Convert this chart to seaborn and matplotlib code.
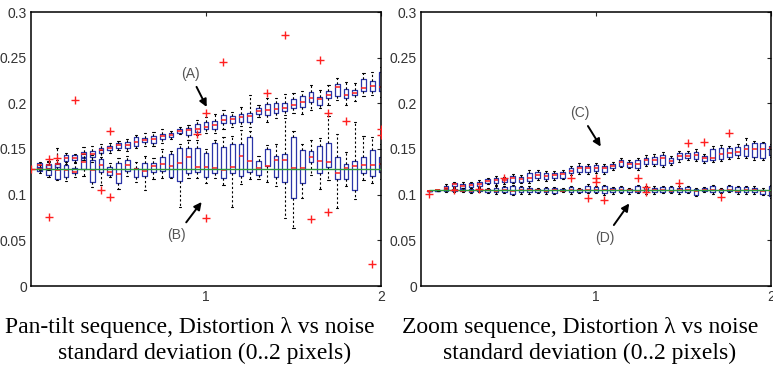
import numpy as np
import pandas as pd
import matplotlib
matplotlib.use('Agg')
from matplotlib import pyplot as plt
import seaborn as sns

# ---------------------------------------------------------------------------
# Distortion lambda estimated vs. noise std (0..2 px), two sequences.
# Each box is given by its 5 numbers: lower whisker, q1, median, q3, upper whisker
# ---------------------------------------------------------------------------

# Pan-tilt sequence: 40 noise levels, true value 0.1277
noise_pt = np.linspace(0.05, 2.0, 40)
true_pt = 0.1277

# (A) fixed-lambda estimate, drifts upwards
A_lo = [0.1270, 0.1270, 0.1280, 0.1340, 0.1350, 0.1380, 0.1360, 0.1410, 0.1460, 0.1490,
        0.1480, 0.1510, 0.1530, 0.1530, 0.1570, 0.1610, 0.1660, 0.1600, 0.1650, 0.1680,
        0.1680, 0.1720, 0.1740, 0.1750, 0.1740, 0.1850, 0.1800, 0.1840, 0.1870, 0.1890,
        0.1880, 0.1930, 0.1950, 0.1980, 0.2040, 0.1980, 0.2030, 0.2080, 0.2090, 0.2070]
A_q1 = [0.1295, 0.1288, 0.1306, 0.1372, 0.1379, 0.1416, 0.1409, 0.1453, 0.1489, 0.1515,
        0.1515, 0.1537, 0.1573, 0.1570, 0.1606, 0.1636, 0.1679, 0.1654, 0.1690, 0.1720,
        0.1720, 0.1782, 0.1782, 0.1800, 0.1793, 0.1886, 0.1871, 0.1892, 0.1911, 0.1948,
        0.1965, 0.2020, 0.1983, 0.2056, 0.2075, 0.2056, 0.2086, 0.2140, 0.2140, 0.2130]
A_med = [0.1320, 0.1320, 0.1340, 0.1400, 0.1400, 0.1440, 0.1450, 0.1490, 0.1510, 0.1540,
         0.1540, 0.1580, 0.1600, 0.1610, 0.1640, 0.1650, 0.1700, 0.1710, 0.1720, 0.1745,
         0.1760, 0.1820, 0.1830, 0.1848, 0.1859, 0.1911, 0.1922, 0.1937, 0.1948, 0.1977,
         0.2010, 0.2060, 0.2050, 0.2090, 0.2180, 0.2090, 0.2110, 0.2170, 0.2190, 0.2180]
A_q3 = [0.1343, 0.1339, 0.1350, 0.1434, 0.1434, 0.1471, 0.1482, 0.1515, 0.1537, 0.1562,
        0.1581, 0.1636, 0.1625, 0.1643, 0.1661, 0.1672, 0.1716, 0.1734, 0.1771, 0.1793,
        0.1811, 0.1874, 0.1863, 0.1880, 0.1899, 0.1948, 0.1994, 0.2001, 0.2001, 0.2045,
        0.2075, 0.2119, 0.2064, 0.2140, 0.2214, 0.2155, 0.2148, 0.2269, 0.2247, 0.2338]
A_hi = [0.1360, 0.1370, 0.1380, 0.1460, 0.1450, 0.1520, 0.1530, 0.1560, 0.1570, 0.1590,
        0.1610, 0.1650, 0.1680, 0.1690, 0.1720, 0.1700, 0.1740, 0.1760, 0.1820, 0.1850,
        0.1880, 0.1930, 0.1910, 0.1960, 0.2090, 0.1980, 0.2060, 0.2060, 0.2100, 0.2110,
        0.2130, 0.2200, 0.2150, 0.2200, 0.2280, 0.2230, 0.2220, 0.2330, 0.2340, 0.2400]

# (B) free-lambda estimate, stays around the true value
B_lo = [0.1240, 0.1190, 0.1160, 0.1150, 0.1190, 0.1200, 0.1080, 0.1110, 0.1190, 0.1060,
        0.1200, 0.1140, 0.1050, 0.1170, 0.1180, 0.1180, 0.0870, 0.1180, 0.1180, 0.1130,
        0.1180, 0.1110, 0.0860, 0.1120, 0.1170, 0.1170, 0.1140, 0.1090, 0.0740, 0.0630,
        0.0960, 0.1220, 0.1060, 0.1160, 0.0850, 0.1100, 0.0950, 0.1160, 0.1130, 0.1170]
B_q1 = [0.1260, 0.1215, 0.1170, 0.1196, 0.1233, 0.1277, 0.1140, 0.1250, 0.1215, 0.1123,
        0.1260, 0.1189, 0.1204, 0.1250, 0.1260, 0.1196, 0.1149, 0.1240, 0.1250, 0.1196,
        0.1234, 0.1178, 0.1234, 0.1209, 0.1245, 0.1212, 0.1315, 0.1197, 0.1135, 0.0967,
        0.1130, 0.1361, 0.1234, 0.1306, 0.1168, 0.1171, 0.1050, 0.1234, 0.1204, 0.1248]
B_med = [0.1277, 0.1280, 0.1270, 0.1270, 0.1251, 0.1361, 0.1270, 0.1330, 0.1251, 0.1226,
         0.1330, 0.1277, 0.1259, 0.1310, 0.1340, 0.1314, 0.1350, 0.1410, 0.1306, 0.1306,
         0.1289, 0.1269, 0.1299, 0.1428, 0.1369, 0.1289, 0.1318, 0.1379, 0.1379, 0.1289,
         0.1290, 0.1416, 0.1369, 0.1361, 0.1240, 0.1289, 0.1314, 0.1325, 0.1325, 0.1336]
B_q3 = [0.1300, 0.1330, 0.1340, 0.1325, 0.1295, 0.1398, 0.1380, 0.1387, 0.1306, 0.1350,
        0.1380, 0.1288, 0.1343, 0.1350, 0.1416, 0.1445, 0.1507, 0.1508, 0.1507, 0.1452,
        0.1563, 0.1520, 0.1551, 0.1551, 0.1628, 0.1373, 0.1497, 0.1428, 0.1443, 0.1628,
        0.1490, 0.1479, 0.1533, 0.1563, 0.1410, 0.1336, 0.1369, 0.1410, 0.1490, 0.1410]
B_hi = [0.1330, 0.1360, 0.1510, 0.1360, 0.1360, 0.1450, 0.1430, 0.1490, 0.1350, 0.1400,
        0.1420, 0.1360, 0.1420, 0.1400, 0.1500, 0.1480, 0.1550, 0.1600, 0.1600, 0.1500,
        0.1600, 0.1630, 0.1640, 0.1710, 0.1700, 0.1420, 0.1540, 0.1550, 0.1840, 0.1700,
        0.1550, 0.1600, 0.1620, 0.1860, 0.1660, 0.1470, 0.1800, 0.1640, 0.1630, 0.1550]

out_pt_x = [0.0, 0.10, 0.10, 0.15, 0.25, 0.40, 0.45, 0.45, 0.95, 1.00, 1.00,
            1.10, 1.35, 1.45, 1.60, 1.65, 1.70, 1.70, 1.80, 1.95, 2.00, 2.00]
out_pt_y = [0.1277, 0.139, 0.076, 0.140, 0.204, 0.105, 0.097, 0.170, 0.1665, 0.189, 0.075,
            0.245, 0.211, 0.275, 0.073, 0.247, 0.189, 0.081, 0.181, 0.0245, 0.172, 0.165]

# Zoom sequence: 42 noise levels, true value 0.1046
noise_zm = np.linspace(2 / 42, 2.0, 42)
true_zm = 0.1046

# (C) fixed-lambda estimate
C_lo = [0.1045, 0.1044, 0.1035, 0.1085, 0.1065, 0.1070, 0.1085, 0.1115, 0.1110, 0.1120,
        0.1125, 0.1125, 0.1130, 0.1165, 0.1150, 0.1165, 0.1170, 0.1210, 0.1225, 0.1230,
        0.1240, 0.1225, 0.1270, 0.1300, 0.1290, 0.1265, 0.1310, 0.1315, 0.1300, 0.1325,
        0.1360, 0.1380, 0.1365, 0.1350, 0.1360, 0.1365, 0.1395, 0.1405, 0.1400, 0.1380,
        0.1375, 0.1410]
C_q1 = [0.1045, 0.1045, 0.1050, 0.1098, 0.1076, 0.1083, 0.1098, 0.1131, 0.1127, 0.1135,
        0.1142, 0.1142, 0.1149, 0.1186, 0.1171, 0.1186, 0.1186, 0.1233, 0.1244, 0.1252,
        0.1259, 0.1244, 0.1288, 0.1318, 0.1307, 0.1288, 0.1332, 0.1332, 0.1325, 0.1343,
        0.1387, 0.1398, 0.1387, 0.1369, 0.1380, 0.1387, 0.1416, 0.1435, 0.1427, 0.1416,
        0.1405, 0.1435]
C_med = [0.1045, 0.1046, 0.1069, 0.1113, 0.1098, 0.1105, 0.1120, 0.1149, 0.1156, 0.1156,
         0.1179, 0.1172, 0.1179, 0.1215, 0.1208, 0.1212, 0.1223, 0.1263, 0.1296, 0.1289,
         0.1296, 0.1289, 0.1314, 0.1354, 0.1336, 0.1340, 0.1380, 0.1380, 0.1398, 0.1373,
         0.1424, 0.1427, 0.1430, 0.1398, 0.1405, 0.1442, 0.1460, 0.1470, 0.1497, 0.1497,
         0.1500, 0.1508]
C_q3 = [0.1045, 0.1047, 0.1094, 0.1127, 0.1120, 0.1124, 0.1142, 0.1167, 0.1186, 0.1178,
        0.1208, 0.1193, 0.1233, 0.1244, 0.1233, 0.1233, 0.1244, 0.1288, 0.1318, 0.1318,
        0.1325, 0.1310, 0.1340, 0.1380, 0.1361, 0.1380, 0.1405, 0.1416, 0.1435, 0.1398,
        0.1453, 0.1453, 0.1471, 0.1420, 0.1501, 0.1515, 0.1508, 0.1526, 0.1544, 0.1563,
        0.1563, 0.1537]
C_hi = [0.1045, 0.1048, 0.1115, 0.1140, 0.1135, 0.1140, 0.1160, 0.1185, 0.1205, 0.1195,
        0.1230, 0.1220, 0.1265, 0.1270, 0.1260, 0.1255, 0.1270, 0.1315, 0.1345, 0.1340,
        0.1350, 0.1335, 0.1360, 0.1400, 0.1380, 0.1400, 0.1430, 0.1440, 0.1465, 0.1420,
        0.1480, 0.1475, 0.1495, 0.1445, 0.1530, 0.1545, 0.1530, 0.1560, 0.1620, 0.1590,
        0.1580, 0.1555]

# (D) free-lambda estimate
D_lo = [0.1045, 0.1044, 0.1025, 0.1028, 0.1025, 0.1015, 0.1030, 0.1020, 0.1010, 0.1015,
        0.0995, 0.1012, 0.1012, 0.1020, 0.1012, 0.1005, 0.1028, 0.1010, 0.1020, 0.1015,
        0.1015, 0.1000, 0.1010, 0.1018, 0.1012, 0.1018, 0.1010, 0.1010, 0.1018, 0.1015,
        0.1010, 0.1015, 0.0985, 0.1028, 0.1010, 0.1018, 0.1025, 0.1012, 0.1010, 0.1010,
        0.0995, 0.0965]
D_q1 = [0.1045, 0.1045, 0.1036, 0.1039, 0.1036, 0.1025, 0.1039, 0.1032, 0.1025, 0.1032,
        0.1003, 0.1025, 0.1025, 0.1032, 0.1025, 0.1017, 0.1039, 0.1025, 0.1032, 0.1032,
        0.1032, 0.1017, 0.1025, 0.1032, 0.1025, 0.1032, 0.1025, 0.1025, 0.1032, 0.1032,
        0.1025, 0.1032, 0.0996, 0.1039, 0.1025, 0.1032, 0.1039, 0.1025, 0.1025, 0.1025,
        0.1010, 0.0981]
D_med = [0.1045, 0.1046, 0.1046, 0.1046, 0.1045, 0.1045, 0.1046, 0.1046, 0.1045, 0.1050,
         0.1045, 0.1046, 0.1048, 0.1046, 0.1045, 0.1046, 0.1045, 0.1046, 0.1046, 0.1046,
         0.1046, 0.1046, 0.1046, 0.1048, 0.1046, 0.1045, 0.1046, 0.1046, 0.1046, 0.1045,
         0.1046, 0.1048, 0.1040, 0.1046, 0.1048, 0.1046, 0.1046, 0.1045, 0.1046, 0.1046,
         0.1040, 0.1043]
D_q3 = [0.1045, 0.1047, 0.1058, 0.1061, 0.1061, 0.1061, 0.1061, 0.1061, 0.1076, 0.1080,
        0.1090, 0.1087, 0.1076, 0.1061, 0.1069, 0.1069, 0.1061, 0.1083, 0.1061, 0.1098,
        0.1083, 0.1091, 0.1069, 0.1083, 0.1061, 0.1091, 0.1083, 0.1076, 0.1083, 0.1083,
        0.1076, 0.1083, 0.1061, 0.1069, 0.1091, 0.1061, 0.1091, 0.1083, 0.1083, 0.1076,
        0.1054, 0.1091]
D_hi = [0.1045, 0.1048, 0.1070, 0.1075, 0.1075, 0.1078, 0.1075, 0.1078, 0.1090, 0.1098,
        0.1105, 0.1100, 0.1090, 0.1075, 0.1085, 0.1085, 0.1075, 0.1098, 0.1078, 0.1115,
        0.1100, 0.1108, 0.1085, 0.1100, 0.1078, 0.1110, 0.1100, 0.1095, 0.1100, 0.1100,
        0.1095, 0.1100, 0.1078, 0.1085, 0.1108, 0.1078, 0.1108, 0.1100, 0.1100, 0.1092,
        0.1070, 0.1108]

out_zm_i = [1, 4, 7, 10, 18, 20, 21, 21, 22, 26, 27, 27, 31, 32, 34, 36, 37]
out_zm_y = [0.1003, 0.1050, 0.1060, 0.1185, 0.1186, 0.0959, 0.1178, 0.1142, 0.0940,
            0.1178, 0.1087, 0.1032, 0.1130, 0.1570, 0.1580, 0.0977, 0.1680]

yticks = [0, 0.05, 0.1, 0.15, 0.2, 0.25, 0.3]
ytick_labels = ['0', '0.05', '0.1', '0.15', '0.2', '0.25', '0.3']
captions = ['Pan-tilt sequence, Distortion \u03bb vs noise',
            'Zoom sequence, Distortion \u03bb vs noise']
caption2 = 'standard deviation (0..2 pixels)'

BLUE = '#2b35a8'
RED = '#ff2020'
GREEN = '#2e9a3a'

sns.set_style('white')
plt.rcParams['font.family'] = ['Liberation Sans Narrow', 'Liberation Sans']


def long_form(x, lo, q1, med, q3, hi):
    rows = []
    for xi, *vals in zip(x, lo, q1, med, q3, hi):
        rows += [(xi, v) for v in vals]
    return pd.DataFrame(rows, columns=['noise', 'lam'])


def draw_boxes(ax, df):
    sns.boxplot(data=df, x='noise', y='lam', native_scale=True, fill=False,
                color=BLUE, linecolor=BLUE, width=0.55, whis=(0, 100), linewidth=0.9,
                showfliers=False,
                medianprops=dict(color=RED, linewidth=1.1),
                whiskerprops=dict(color='black', linestyle=(0, (2, 2)), linewidth=0.8),
                capprops=dict(color='black', linewidth=0.8),
                ax=ax)


fig = plt.figure(figsize=(7.73, 3.65), dpi=100)
ax1 = fig.add_axes([31 / 773, 79 / 365, 350 / 773, 274 / 365])
ax2 = fig.add_axes([421 / 773, 79 / 365, 350 / 773, 274 / 365])

draw_boxes(ax1, long_form(noise_pt, A_lo, A_q1, A_med, A_q3, A_hi))
draw_boxes(ax1, long_form(noise_pt, B_lo, B_q1, B_med, B_q3, B_hi))
ax1.hlines(true_pt, 0, 2, color=GREEN, lw=1.0, zorder=5)
sns.scatterplot(x=out_pt_x, y=out_pt_y, marker='+', color=RED, s=30, linewidth=1.0,
                zorder=6, ax=ax1)

draw_boxes(ax2, long_form(noise_zm, C_lo, C_q1, C_med, C_q3, C_hi))
draw_boxes(ax2, long_form(noise_zm, D_lo, D_q1, D_med, D_q3, D_hi))
ax2.hlines(true_zm, noise_zm[0], 2, color=GREEN, lw=1.0, zorder=5)
sns.scatterplot(x=noise_zm[np.array(out_zm_i) - 1], y=out_zm_y, marker='+', color=RED,
                s=30, linewidth=1.0, zorder=6, ax=ax2)

for ax, cap in zip([ax1, ax2], captions):
    ax.set_xlim(0, 2)
    ax.set_ylim(0, 0.3)
    ax.set_xticks([1, 2])
    ax.set_xticklabels(['1', '2'])
    ax.set_yticks(yticks)
    ax.set_yticklabels(ytick_labels)
    ax.set_xlabel('')
    ax.set_ylabel('')
    ax.tick_params(direction='in', length=3, width=0.8, top=True, right=True,
                   labelsize=10, labelcolor='#333333', pad=3)
    for sp in ax.spines.values():
        sp.set_color('black')
        sp.set_linewidth(1.1)

arrow = dict(arrowstyle='-|>', color='black', lw=1.4, mutation_scale=11, shrinkA=2, shrinkB=0)
note = dict(ha='center', va='center', fontsize=10, color='#555555')
ax1.annotate('(A)', xy=(1.004, 0.196), xytext=(0.909, 0.232), arrowprops=arrow, **note)
ax1.annotate('(B)', xy=(0.975, 0.092), xytext=(0.833, 0.056), arrowprops=arrow, **note)
ax2.annotate('(C)', xy=(1.027, 0.1526), xytext=(0.909, 0.189), arrowprops=arrow, **note)
ax2.annotate('(D)', xy=(1.19, 0.0904), xytext=(1.051, 0.053), arrowprops=arrow, **note)

serif = dict(family='Liberation Serif', fontsize=17, color='black', va='center')
fig.text(5 / 773, 1 - 328 / 365, captions[0], ha='left', **serif)
fig.text(402 / 773, 1 - 328 / 365, captions[1], ha='left', **serif)
fig.text(205 / 773, 1 - 353 / 365, caption2, ha='center', **serif)
fig.text(590 / 773, 1 - 353 / 365, caption2, ha='center', **serif)

fig.savefig('out.png', dpi=100)
